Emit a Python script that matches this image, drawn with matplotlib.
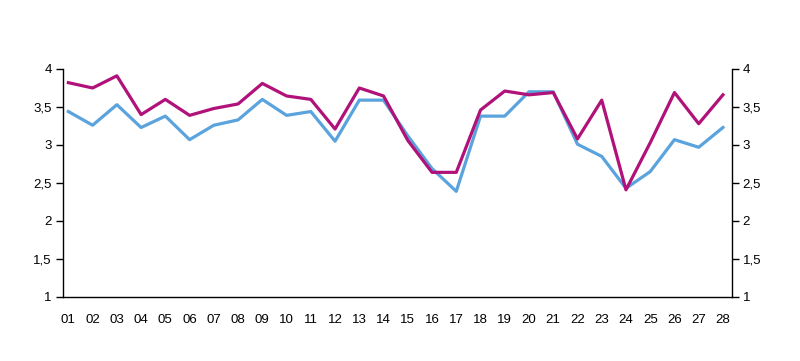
import matplotlib
matplotlib.use('Agg')
import matplotlib.pyplot as plt
from matplotlib.ticker import FuncFormatter

DAYS = ["%02d" % d for d in range(1, 29)]
MAGENTA = [3.82, 3.75, 3.91, 3.40, 3.60, 3.39, 3.48, 3.54, 3.81, 3.645,
           3.60, 3.21, 3.75, 3.645, 3.06, 2.64, 2.64, 3.46, 3.71, 3.66,
           3.69, 3.08, 3.59, 2.41, 3.03, 3.69, 3.28, 3.66]
BLUE = [3.44, 3.26, 3.53, 3.23, 3.38, 3.07, 3.26, 3.33, 3.60, 3.39,
        3.44, 3.05, 3.59, 3.59, 3.12, 2.69, 2.39, 3.38, 3.38, 3.70,
        3.70, 3.01, 2.85, 2.43, 2.65, 3.07, 2.97, 3.23]
YTICKS = [1, 1.5, 2, 2.5, 3, 3.5, 4]

plt.rcParams['font.family'] = ['Liberation Sans', 'DejaVu Sans']

fig = plt.figure(figsize=(8, 3.61), dpi=100)
ax = fig.add_axes([0.0788, 0.1773, 0.8358, 0.6316])

x = list(range(1, len(DAYS) + 1))
ax.plot(x, BLUE, color='#5aa3dc', lw=2.3, zorder=3)
ax.plot(x, MAGENTA, color='#b0127a', lw=2.3, zorder=4)

ax.set_xlim(0.78, 28.36)
ax.set_ylim(1, 4)
ax.set_yticks(YTICKS)
ax.yaxis.set_major_formatter(FuncFormatter(lambda v, p: ('%g' % v).replace('.', ',')))
ax.set_xticks(x)
ax.set_xticklabels(DAYS)
ax.tick_params(axis='x', length=0, pad=12, labelsize=9.5)
ax.tick_params(axis='y', direction='out', length=5, width=1, pad=3, labelsize=9.5,
               left=True, right=True, labelleft=True, labelright=True)
ax.spines['top'].set_visible(False)
for s in ['left', 'right', 'bottom']:
    ax.spines[s].set_linewidth(1.0)

plt.savefig('out.png', dpi=100, facecolor='white')
plt.close()
